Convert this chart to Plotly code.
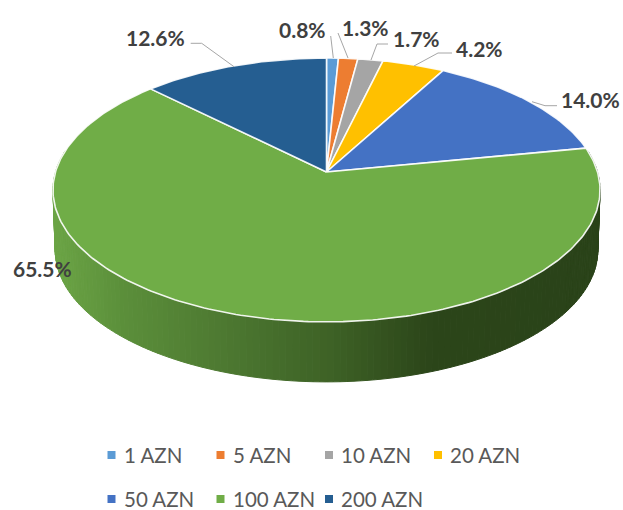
import numpy as np
import plotly.graph_objects as go

categories = ["1 AZN", "5 AZN", "10 AZN", "20 AZN", "50 AZN", "100 AZN", "200 AZN"]
shares = [0.8, 1.3, 1.7, 4.2, 14.0, 65.5, 12.6]
colors = ["#5B9BD5", "#ED7D31", "#A5A5A5", "#FFC000", "#4472C4", "#70AD47", "#255E91"]

# Perspective projection of the tilted disc (pixel space of the 623x510 page)
CX, CY, A, B, K = 326.5, 172.0, 271.0, 129.5, 0.136
DEPTH = 60.0


def project(theta, drop=0.0, shrink=1.0):
    u, v = np.sin(theta), -np.cos(theta)
    d = 1 - K * v
    return CX + shrink * A * u / d, CY + B * v / d + drop


fig = go.Figure()
fracs = np.array(shares) / sum(shares)
edges = np.concatenate([[0], np.cumsum(fracs)]) * 2 * np.pi

# Side wall: the part of the rim facing the viewer, shaded along x
stops_x = [53, 120, 220, 330, 430, 600]
stops_c = [(108, 165, 70), (92, 144, 59), (78, 122, 50), (62, 98, 38), (44, 70, 26), (42, 67, 25)]
rim = np.linspace(np.radians(80), np.radians(280), 161)
for t0, t1 in zip(rim[:-1], rim[1:]):
    ts = np.linspace(t0, t1, 3)
    xt, yt = project(ts)
    xb, yb = project(ts[::-1], DEPTH, 0.992)
    xm = float(np.mean(xt))
    rgb = [int(np.interp(xm, stops_x, [c[i] for c in stops_c])) for i in range(3)]
    col = f"rgb({rgb[0]},{rgb[1]},{rgb[2]})"
    fig.add_trace(go.Scatter(
        x=np.concatenate([xt, xb, xt[:1]]), y=np.concatenate([yt, yb, yt[:1]]),
        mode="lines", fill="toself", fillcolor=col, line=dict(color=col, width=1),
        hoverinfo="skip", showlegend=False))

# Top face slices
for i, name in enumerate(categories):
    ts = np.linspace(edges[i], edges[i + 1], max(4, int(fracs[i] * 400)))
    x, y = project(ts)
    fig.add_trace(go.Scatter(
        x=np.concatenate([[CX], x, [CX]]), y=np.concatenate([[CY], y, [CY]]),
        mode="lines", fill="toself", fillcolor=colors[i],
        line=dict(color="rgba(255,255,255,0.9)", width=1.6),
        name=name, text=f"{shares[i]:.1f}%", hoverinfo="name+text", showlegend=False))

# Leader lines
leaders = {
    "1 AZN": ([330.7, 333.3], [36, 58]),
    "5 AZN": ([338, 348], [33, 58]),
    "10 AZN": ([388, 377, 371], [44, 44, 60]),
    "20 AZN": ([452, 438, 414], [53, 53, 66]),
    "50 AZN": ([557, 545, 532], [105.7, 105.7, 101.7]),
    "200 AZN": ([190.7, 201.7, 234], [43.3, 43.3, 66.7]),
}
for name, (lx, ly) in leaders.items():
    fig.add_trace(go.Scatter(x=lx, y=ly, mode="lines", line=dict(color="#A6A6A6", width=1),
                             hoverinfo="skip", showlegend=False))

# Data labels
label_pos = [(302, 29), (365.5, 27), (416, 38), (479.5, 48), (590.5, 99), (42, 268.5), (155, 37)]
for (lx, ly), s in zip(label_pos, shares):
    fig.add_annotation(x=lx, y=ly, text=f"{s:.1f}%", showarrow=False, xanchor="center", yanchor="middle",
                       font=dict(family="Lato", size=21, color="#404040", weight="bold"))

# Legend drawn in two rows at the reference positions
legend_x = [111.5, 220.5, 329, 438, 111.5, 220.5, 329]
legend_y = [455, 455, 455, 455, 499, 499, 499]
for i, name in enumerate(categories):
    fig.add_trace(go.Scatter(x=[legend_x[i]], y=[legend_y[i]], mode="markers", name=name,
                             marker=dict(symbol="square", size=8, color=colors[i]),
                             hoverinfo="name", showlegend=False))
    fig.add_annotation(x=legend_x[i] + 11, y=legend_y[i], text=name, showarrow=False,
                       xanchor="left", yanchor="middle", height=20, borderpad=0,
                       font=dict(family="Lato", size=20.5, color="#595959"))

fig.update_layout(
    width=623, height=510, margin=dict(l=0, r=0, t=0, b=0),
    paper_bgcolor="white", plot_bgcolor="white", showlegend=False,
    xaxis=dict(range=[0, 623], visible=False, fixedrange=True),
    yaxis=dict(range=[510, 0], visible=False, fixedrange=True),
)
fig.write_html("out.html", config={"displayModeBar": False},
               post_script="document.body.style.margin='0';document.documentElement.style.overflow='hidden';")
